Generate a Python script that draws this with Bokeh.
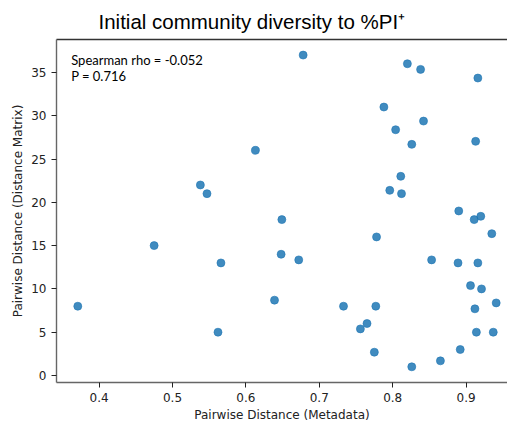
from bokeh.plotting import figure
from bokeh.models import Range1d, FixedTicker, Label, LinearAxis, Title
from bokeh.embed import file_html
from bokeh.resources import INLINE

x_meta = [0.613, 0.538, 0.547, 0.678, 0.820, 0.838, 0.916, 0.788, 0.842, 0.804,
          0.826, 0.913, 0.811, 0.796, 0.812, 0.475, 0.566, 0.371, 0.562, 0.639,
          0.649, 0.648, 0.672, 0.778, 0.733, 0.777, 0.765, 0.756, 0.775, 0.826,
          0.865, 0.892, 0.890, 0.911, 0.920, 0.935, 0.853, 0.889, 0.916, 0.906,
          0.921, 0.941, 0.912, 0.914, 0.937]
y_dist = [26.0, 22.0, 21.0, 37.0, 36.0, 35.35, 34.35, 31.0, 29.38, 28.38,
          26.69, 27.04, 23.0, 21.38, 21.0, 15.0, 13.0, 8.0, 5.0, 8.7,
          18.0, 14.0, 13.35, 16.0, 8.0, 8.0, 6.0, 5.38, 2.69, 1.0,
          1.69, 3.0, 19.0, 18.0, 18.38, 16.38, 13.35, 13.0, 13.0, 10.38,
          10.0, 8.38, 7.7, 5.0, 5.0]
x_ticks = [0.4, 0.5, 0.6, 0.7, 0.8, 0.9]
y_ticks = [0, 5, 10, 15, 20, 25, 30, 35]
title_text = "Initial community diversity to %PI\u207a"
stat_lines = ["Spearman rho = -0.052", "P = 0.716"]

p = figure(frame_width=451, frame_height=343, output_backend="svg",
           toolbar_location=None,
           x_range=Range1d(0.342, 0.9564), y_range=Range1d(-0.81, 38.8),
           min_border_left=56, min_border_top=39, min_border_right=0,
           min_border_bottom=10)
p.title = Title(text=title_text, align="left", offset=42,
                text_font="Liberation Sans", text_font_size="20.5px",
                text_font_style="normal", text_color="#000000", standoff=13)
p.grid.visible = False
p.outline_line_color = None
p.background_fill_color = "white"

p.scatter(x_meta, y_dist, size=8, marker="circle", fill_color="#1f77b4",
          fill_alpha=0.85, line_color="#1f77b4", line_alpha=0.6)

for ax, ticks, lab in ((p.xaxis[0], x_ticks, "Pairwise Distance (Metadata)"),
                       (p.yaxis[0], y_ticks, "Pairwise Distance (Distance Matrix)")):
    ax.ticker = FixedTicker(ticks=ticks)
    ax.axis_label = lab
    ax.axis_label_text_font = "DejaVu Sans"
    ax.axis_label_text_font_size = "12px"
    ax.axis_label_text_font_style = "normal"
    ax.axis_label_text_color = "#222222"
    ax.major_label_text_font = "DejaVu Sans"
    ax.major_label_text_font_size = "12px"
    ax.major_label_text_color = "#222222"
    ax.axis_line_color = "#666666"
    ax.axis_line_width = 1.4
    ax.major_tick_line_color = "#222222"
    ax.major_tick_out = 5
    ax.major_tick_in = 0
    ax.minor_tick_line_color = None
    ax.major_label_standoff = 5
    ax.axis_label_standoff = 3

top = LinearAxis(ticker=FixedTicker(ticks=[]), major_label_text_font_size="0px",
                 axis_line_color="#333333", axis_line_width=1.4,
                 major_tick_line_color=None, minor_tick_line_color=None)
p.add_layout(top, "above")

for i, t in enumerate(stat_lines):
    p.add_layout(Label(x=0.362, y=36.45 - 1.85 * i, text=t, text_font="Lato",
                       text_font_size="13px", text_color="#000000",
                       text_baseline="alphabetic"))

open("out.html", "w").write(file_html(p, INLINE))
